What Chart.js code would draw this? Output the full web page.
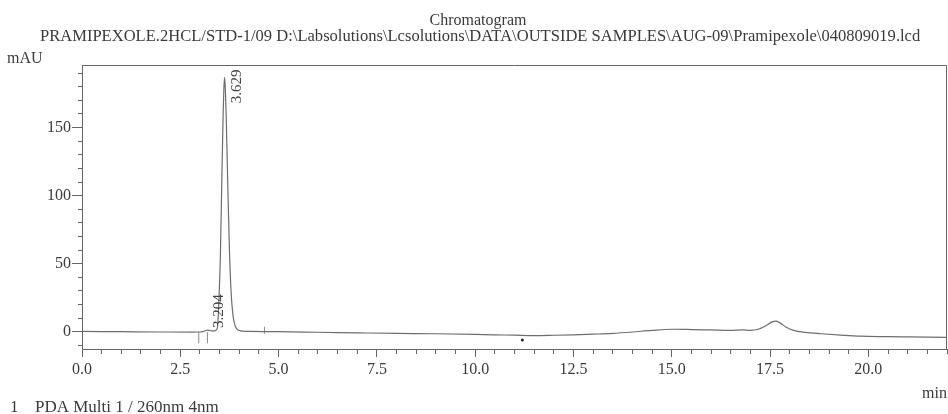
<!DOCTYPE html>
<html>
<head>
<meta charset="utf-8">
<script src="https://cdn.jsdelivr.net/npm/chart.js@4.4.1/dist/chart.umd.min.js"></script>
<style>
  html, body { margin: 0; padding: 0; background: #ffffff; }
  #wrap { width: 948px; height: 414px; position: relative; }
</style>
</head>
<body>
<div id="wrap"><canvas id="c" width="948" height="414"></canvas></div>
<script>
// ---- data ----
const times = [0.0, 1.0, 2.0, 2.8, 3.0, 3.1, 3.204, 3.3, 3.38, 3.42, 3.45, 3.485, 3.52, 3.557, 3.59, 3.61,
  3.629, 3.65, 3.67, 3.71, 3.75, 3.79, 3.84, 3.90, 3.97, 4.1, 4.3, 5.0, 6.0, 7.0, 8.0, 9.0, 10.0, 10.5,
  11.0, 11.5, 12.0, 12.5, 13.0, 13.5, 14.0, 14.5, 15.0, 15.5, 16.0, 16.5, 16.8, 17.0, 17.2, 17.4, 17.55,
  17.65, 17.75, 17.9, 18.1, 18.4, 18.8, 19.3, 19.8, 20.5, 21.0, 22.0];
const signal = [0.2, 0.0, -0.2, -0.3, -0.2, 0.3, 1.2, 0.6, 0.6, 1.5, 4, 25, 56, 113, 160, 180,
  187, 175, 155, 105, 60, 30, 12, 4, 1.2, 0.4, 0.2, 0.0, -0.4, -0.8, -1.2, -1.5, -2.0, -2.3,
  -2.5, -2.8, -2.6, -2.3, -1.8, -1.2, -0.2, 1.0, 1.8, 1.6, 1.3, 1.0, 1.3, 1.0, 1.8, 4.5, 7.2,
  7.8, 6.5, 3.5, 1.0, -0.5, -1.5, -2.5, -3.3, -3.6, -3.8, -4.2];
const peakTimes = [3.204, 3.629];
const peakHeights = [1.2, 187];
const markerTimes = [2.97, 3.19, 4.64];
const markerLevels = [-4.4, -4.4, 1.1];
const dustTimes = [11.2];
const dustLevels = [-6.1];
const xMajorTicks = [0, 2.5, 5, 7.5, 10, 12.5, 15, 17.5, 20];
const yMajorTicks = [0, 50, 100, 150];

const FONT = '"Liberation Serif", "Times New Roman", serif';
const TXT = '#3a3a3a';
const AX = '#666666';

const peakLabelStyle = [ {dx: 11, dy: -2}, {dx: 12, dy: 26} ];

const textPlugin = {
  id: 'texts',
  afterDraw(chart) {
    const ctx = chart.ctx;
    const a = chart.chartArea;
    ctx.save();
    // frame top/right
    ctx.strokeStyle = AX;
    ctx.lineWidth = 1;
    ctx.beginPath();
    ctx.moveTo(a.left, a.top + 0.5);
    ctx.lineTo(a.right - 0.5, a.top + 0.5);
    ctx.lineTo(a.right - 0.5, a.bottom);
    ctx.stroke();

    ctx.fillStyle = TXT;
    ctx.textBaseline = 'alphabetic';
    ctx.font = '16px ' + FONT;
    ctx.textAlign = 'center';
    ctx.fillText('Chromatogram', 478, 25);

    const path = 'PRAMIPEXOLE.2HCL/STD-1/09 D:\\Labsolutions\\Lcsolutions\\DATA\\OUTSIDE SAMPLES\\AUG-09\\Pramipexole\\040809019.lcd';
    ctx.textAlign = 'left';
    ctx.font = '16px ' + FONT;
    const w = ctx.measureText(path).width;
    const fs = 16 * 881 / w;
    ctx.font = fs.toFixed(2) + 'px ' + FONT;
    ctx.fillText(path, 40, 41);

    ctx.font = '16px ' + FONT;
    ctx.fillText('mAU', 7, 63);
    ctx.textAlign = 'right';
    ctx.fillText('min', 947, 398);

    ctx.textAlign = 'left';
    ctx.font = '17px ' + FONT;
    ctx.fillText('1', 10, 412);
    ctx.fillText('PDA Multi 1 / 260nm 4nm', 35, 412);

    // peak labels
    const xs = chart.scales.x, ys = chart.scales.y;
    ctx.font = '15px ' + FONT;
    ctx.fillStyle = '#444';
    peakTimes.forEach((t, i) => {
      const px = xs.getPixelForValue(t) + peakLabelStyle[i].dx;
      const py = ys.getPixelForValue(peakHeights[i]) + peakLabelStyle[i].dy;
      ctx.save();
      ctx.translate(px, py);
      ctx.rotate(-Math.PI / 2);
      ctx.textAlign = 'left';
      ctx.textBaseline = 'middle';
      ctx.fillText(t.toFixed(3), 0, 0);
      ctx.restore();
    });
    ctx.restore();
  }
};

const tickFont = { family: FONT, size: 16 };
const noPad = s => { s.paddingLeft = 0; s.paddingRight = 0; };

new Chart(document.getElementById('c'), {
  type: 'line',
  data: {
    datasets: [
      {
        data: times.map((t, i) => ({ x: t, y: signal[i] })),
        borderColor: '#6e6e6e',
        borderWidth: 1.2,
        pointRadius: 0,
        pointHoverRadius: 0,
        cubicInterpolationMode: 'monotone',
        fill: false
      },
      {
        type: 'scatter',
        data: markerTimes.map((t, i) => ({ x: t, y: markerLevels[i] })),
        pointStyle: 'line',
        rotation: 90,
        radius: [5.5, 5.5, 3.5],
        hoverRadius: 0,
        borderColor: '#8a8a8a',
        borderWidth: 1,
        backgroundColor: '#8a8a8a'
      },
      {
        type: 'scatter',
        data: dustTimes.map((t, i) => ({ x: t, y: dustLevels[i] })),
        pointStyle: 'circle',
        radius: 1.5,
        hoverRadius: 0,
        borderWidth: 0,
        backgroundColor: '#222'
      }
    ]
  },
  options: {
    responsive: false,
    animation: false,
    devicePixelRatio: 1,
    events: [],
    layout: { autoPadding: false, padding: { top: 65, left: 0, right: 1, bottom: 414 - 349 - 30 } },
    plugins: { legend: { display: false }, tooltip: { enabled: false }, title: { display: false } },
    scales: {
      x: {
        type: 'linear', position: 'bottom', weight: 1,
        min: 0, max: 22,
        afterBuildTicks: s => { s.ticks = xMajorTicks.map(v => ({ value: v })); },
        afterFit: s => { s.height = 30; noPad(s); },
        ticks: { callback: v => Number(v).toFixed(1), font: tickFont, color: TXT, padding: 3, maxRotation: 0, autoSkip: false },
        grid: { drawOnChartArea: false, tickLength: 8, color: AX, tickWidth: 1 },
        border: { display: true, color: AX, width: 1 }
      },
      xm: {
        type: 'linear', position: 'bottom', weight: 0,
        min: 0, max: 22,
        afterFit: s => { s.height = 0; noPad(s); },
        ticks: { display: false, stepSize: 0.5, includeBounds: false, autoSkip: false },
        grid: { drawOnChartArea: false, tickLength: 5, color: AX },
        border: { display: false }
      },
      y: {
        type: 'linear', position: 'left', weight: 1,
        min: -12.7, max: 196,
        afterBuildTicks: s => { s.ticks = yMajorTicks.map(v => ({ value: v })); },
        afterFit: s => { s.width = 82; },
        ticks: { callback: v => String(v), font: tickFont, color: TXT, padding: 1 },
        grid: { drawOnChartArea: false, tickLength: 10, color: AX },
        border: { display: true, color: AX, width: 1 }
      },
      ym: {
        type: 'linear', position: 'left', weight: 0,
        min: -12.7, max: 196,
        afterFit: s => { s.width = 0; },
        ticks: { display: false, stepSize: 10, includeBounds: false },
        grid: { drawOnChartArea: false, tickLength: 4, color: AX },
        border: { display: false }
      }
    }
  },
  plugins: [textPlugin]
});
</script>
</body>
</html>
